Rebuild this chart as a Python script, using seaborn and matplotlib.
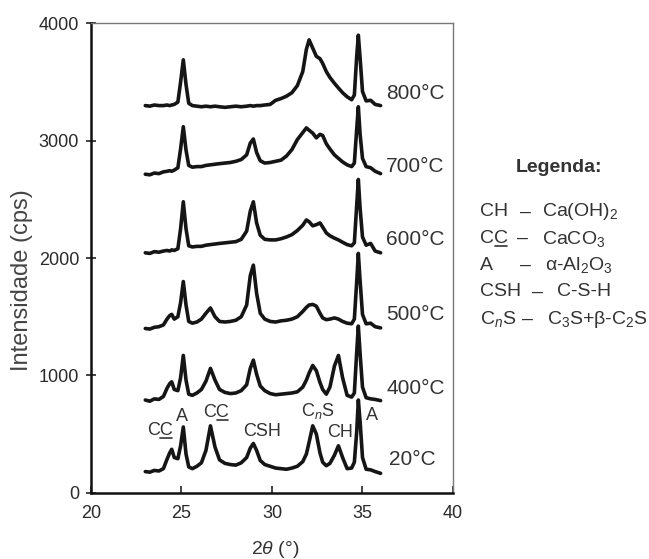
import numpy as np
import pandas as pd
import matplotlib
matplotlib.use("Agg")
import matplotlib.pyplot as plt
from matplotlib.lines import Line2D
import seaborn as sns

# ---------------- data ----------------
two_theta = [23.0, 23.25, 23.5, 23.75, 24.0, 24.2, 24.35, 24.46, 24.6, 24.8,
             24.95, 25.1, 25.25, 25.4, 25.6, 25.85, 26.1, 26.35, 26.6, 26.85,
             27.1, 27.4, 27.7, 28.0, 28.3, 28.6, 28.8, 28.97, 29.15, 29.35,
             29.6, 29.9, 30.2, 30.5, 30.8, 31.1, 31.4, 31.7, 31.9, 32.05,
             32.25, 32.45, 32.65, 32.8, 33.0, 33.2, 33.45, 33.67, 33.9, 34.15,
             34.4, 34.55, 34.68, 34.77, 34.87, 35.0, 35.2, 35.45, 35.7, 36.0]

i_20 = [180, 175, 190, 185, 205, 285, 340, 370, 300, 290,
        400, 560, 330, 220, 205, 225, 255, 360, 570, 390,
        280, 250, 240, 235, 255, 300, 380, 420, 360, 275,
        240, 225, 210, 205, 200, 210, 225, 265, 330, 430,
        570, 500, 340, 260, 230, 250, 320, 400, 300, 205,
        210, 260, 520, 790, 600, 300, 200, 195, 180, 165]

i_400 = [790, 780, 800, 795, 820, 890, 930, 945, 880, 870,
         980, 1170, 960, 840, 830, 850, 880, 950, 1060, 960,
         880, 855, 845, 850, 870, 920, 1060, 1130, 1010, 910,
         870, 845, 835, 840, 845, 850, 860, 900, 960, 1020,
         1085, 1040, 940, 880, 840, 900, 1080, 1170, 980, 830,
         815, 850, 1200, 1420, 1180, 900, 810, 800, 795, 785]

i_500 = [1400, 1395, 1410, 1415, 1430, 1480, 1510, 1520, 1480, 1500,
         1620, 1800, 1600, 1460, 1445, 1455, 1480, 1530, 1575, 1500,
         1460, 1455, 1460, 1470, 1500, 1600, 1850, 1940, 1700, 1530,
         1480, 1460, 1455, 1465, 1470, 1480, 1500, 1545, 1580, 1600,
         1605, 1590, 1530, 1490, 1475, 1480, 1490, 1480, 1460, 1445,
         1440, 1480, 1800, 2040, 1800, 1520, 1440, 1445, 1415, 1405]

i_600 = [2045, 2040, 2055, 2050, 2060, 2065, 2060, 2070, 2065, 2080,
         2250, 2480, 2250, 2105, 2095, 2100, 2100, 2110, 2115, 2120,
         2125, 2130, 2135, 2140, 2160, 2230, 2400, 2480, 2300, 2195,
         2160, 2155, 2155, 2165, 2180, 2200, 2235, 2280, 2325, 2310,
         2275, 2285, 2300, 2265, 2215, 2190, 2170, 2155, 2135, 2115,
         2105, 2130, 2450, 2670, 2420, 2180, 2110, 2125, 2060, 2045]

i_700 = [2715, 2710, 2725, 2720, 2735, 2740, 2745, 2740, 2750, 2770,
         2930, 3120, 2920, 2790, 2775, 2780, 2780, 2790, 2795, 2800,
         2805, 2810, 2815, 2825, 2840, 2880, 2980, 3015, 2900, 2830,
         2810, 2815, 2825, 2835, 2870, 2925, 3010, 3070, 3110, 3090,
         3065, 3025, 3055, 3045, 2975, 2930, 2880, 2850, 2820, 2795,
         2780, 2810, 3100, 3290, 3050, 2850, 2780, 2770, 2740, 2720]

i_800 = [3300, 3295, 3305, 3300, 3300, 3305, 3300, 3305, 3310, 3330,
         3500, 3690, 3480, 3320, 3300, 3295, 3290, 3295, 3290, 3295,
         3290, 3285, 3290, 3295, 3290, 3295, 3300, 3295, 3300, 3300,
         3305, 3310, 3345, 3360, 3380, 3410, 3470, 3590, 3780, 3860,
         3790, 3720, 3700, 3660, 3590, 3540, 3490, 3450, 3410, 3375,
         3350, 3390, 3720, 3900, 3700, 3420, 3340, 3345, 3310, 3300]

temperatures = ["20°C", "400°C", "500°C", "600°C", "700°C", "800°C"]
series = [i_20, i_400, i_500, i_600, i_700, i_800]

# "CC" entries get the second C underlined (calcite notation)
peak_labels = ["CC", "A", "CC", "CSH", "C$_\\mathit{n}$S", "CH", "A"]

legend_codes = ["CH", "CC", "A", "CSH", "C$_\\mathit{n}$S"]
legend_formulas = ["Ca(OH)$_2$", "CaCO$_3$", "$\\alpha$-Al$_2$O$_3$",
                   "C-S-H", "C$_3$S+$\\beta$-C$_2$S"]

# ---------------- style ----------------
sns.set_style("ticks")
plt.rcParams["font.family"] = ["Liberation Sans", "DejaVu Sans"]
plt.rcParams["mathtext.fontset"] = "custom"
plt.rcParams["mathtext.rm"] = "Liberation Sans"
plt.rcParams["mathtext.it"] = "Liberation Sans:italic"
plt.rcParams["mathtext.bf"] = "Liberation Sans:bold"
plt.rcParams["mathtext.default"] = "regular"

TXT = "#333333"

df = pd.DataFrame({
    "two_theta": np.tile(two_theta, len(series)),
    "intensity": np.concatenate(series),
    "temp": np.repeat(temperatures, len(two_theta)),
})

fig = plt.figure(figsize=(6.49, 5.59), dpi=100)
ax = fig.add_axes([0.1402, 0.1186, 0.5578, 0.8394])

sns.lineplot(data=df, x="two_theta", y="intensity", units="temp",
             estimator=None, color="#151515", linewidth=2.6, ax=ax,
             sort=False)

ax.set_xlim(20, 40)
ax.set_ylim(0, 4000)
ax.set_xticks([20, 25, 30, 35, 40])
ax.set_yticks([0, 1000, 2000, 3000, 4000])

for s in ["left", "bottom"]:
    ax.spines[s].set_linewidth(1.8)
    ax.spines[s].set_color("#111111")
for s in ["top", "right"]:
    ax.spines[s].set_visible(True)
    ax.spines[s].set_linewidth(1.0)
    ax.spines[s].set_color("#777777")

ax.tick_params(axis="x", direction="in", length=5, width=1.2,
               labelsize=13, labelcolor="#2a2a2a", pad=9, color="#222222")
ax.tick_params(axis="y", direction="inout", length=7, width=1.2,
               labelsize=13, labelcolor="#2a2a2a", pad=5, color="#222222")

ax.set_ylabel("Intensidade (cps)", fontsize=17, color="#444444")
ax.yaxis.set_label_coords(-0.16, 0.453)
ax.set_xlabel("$\\mathit{2\\theta}$ (°)", fontsize=14, color=TXT)
ax.xaxis.set_label_coords(0.51, -0.098)

# temperature labels
temp_x = [36.46, 36.3, 36.3, 36.3, 36.3, 36.3]
temp_y = [282, 887, 1516, 2156, 2782, 3406]
for t, xx, yy in zip(temperatures, temp_x, temp_y):
    ax.text(xx, yy, t, fontsize=15, color=TXT, ha="left", va="center",
            clip_on=False)

underline_targets = []

# peak labels on the 20 °C pattern
pk_x = [23.81, 25.03, 26.91, 29.45, 32.54, 33.76, 35.52]
pk_y = [526, 646, 680, 518, 697, 509, 654]
for lab, xx, yy in zip(peak_labels, pk_x, pk_y):
    t = ax.text(xx, yy, lab, fontsize=13, color=TXT, ha="center",
                va="center")
    if lab == "CC":
        underline_targets.append(t)

# legend block (figure pixel positions)
W, H = 649, 559
fig.text(559 / W, 1 - 168 / H, "Legenda:", fontsize=14, fontweight="bold",
         color=TXT, ha="center", va="center")
row_y = [212, 238.5, 265, 292, 319]
dash_x = [520, 517, 520, 532, 522]
form_x = [542, 542, 545, 557, 547]
for code, form, yy, dx, fx in zip(legend_codes, legend_formulas, row_y,
                                   dash_x, form_x):
    t = fig.text(480 / W, 1 - yy / H, code, fontsize=14, color=TXT,
                 ha="left", va="center")
    if code == "CC":
        underline_targets.append(t)
    fig.text(dx / W, 1 - yy / H, "–", fontsize=14, color=TXT,
             ha="left", va="center")
    fig.text(fx / W, 1 - yy / H, form, fontsize=14, color=TXT,
             ha="left", va="center")

# underline the second C of each "CC"
fig.canvas.draw()
renderer = fig.canvas.get_renderer()
inv = fig.transFigure.inverted()
for t in underline_targets:
    bb = t.get_window_extent(renderer)
    x0 = bb.x0 + bb.width * 0.52
    x1 = bb.x1 - bb.width * 0.02
    yline = bb.y0 + 1.0
    (fx0, fy), (fx1, _) = inv.transform([(x0, yline), (x1, yline)])
    fig.add_artist(Line2D([fx0, fx1], [fy, fy], transform=fig.transFigure,
                          color=TXT, linewidth=1.2))

fig.savefig("out.png", dpi=100, facecolor="white")
